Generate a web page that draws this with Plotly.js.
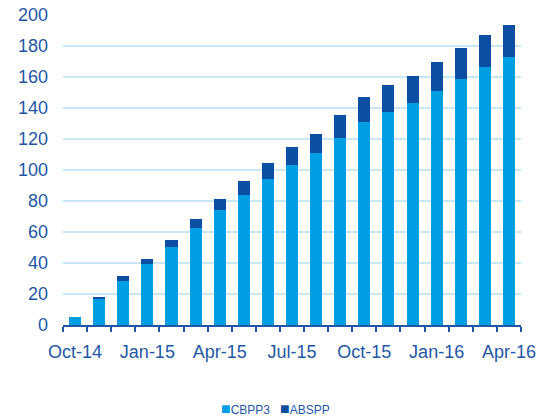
<!DOCTYPE html>
<html>
<head>
<meta charset="utf-8">
<script src="https://cdn.plot.ly/plotly-3.0.1.min.js"></script>
<style>html,body{margin:0;padding:0;background:#fff;}#chart{width:550px;height:419px;}</style>
</head>
<body>
<div id="chart"></div>
<script>
const months = ['Oct-14','Nov-14','Dec-14','Jan-15','Feb-15','Mar-15','Apr-15','May-15','Jun-15','Jul-15','Aug-15','Sep-15','Oct-15','Nov-15','Dec-15','Jan-16','Feb-16','Mar-16','Apr-16'];
const cbpp3 = [5.2, 16.6, 28.6, 39.1, 50.1, 62.6, 74.0, 84.1, 94.0, 103.0, 110.8, 120.8, 130.8, 137.4, 143.4, 151.0, 158.5, 166.5, 172.9];
const abspp = [0.0, 1.7, 2.8, 3.7, 4.7, 6.0, 7.1, 8.6, 10.3, 11.6, 12.2, 14.5, 16.1, 17.2, 17.0, 18.9, 20.0, 20.4, 20.8];
const tickLabels = ['Oct-14','','','Jan-15','','','Apr-15','','','Jul-15','','','Oct-15','','','Jan-16','','','Apr-16'];
const seriesNames = ['CBPP3','ABSPP'];
const seriesColors = ['#009FE3','#0B4EA2'];

const textColor = '#1F57A6';
const data = [
  {type:'bar', name:seriesNames[0], x:months, y:cbpp3, marker:{color:seriesColors[0]}, showlegend:false},
  {type:'bar', name:seriesNames[1], x:months, y:abspp, marker:{color:seriesColors[1]}, showlegend:false}
];
const legendText = seriesNames.map((n,i)=>'<span style="color:'+seriesColors[i]+';font-size:16px">■</span>'+n).join('&nbsp;&nbsp;&nbsp;');
const layout = {
  width:550, height:419,
  margin:{l:63, r:29, t:15, b:94, autoexpand:false},
  barmode:'stack',
  bargap:0.5,
  paper_bgcolor:'#fff', plot_bgcolor:'#fff',
  font:{family:'"Liberation Sans", Arial, sans-serif', color:textColor, size:18},
  xaxis:{
    type:'category', tickvals:months, ticktext:tickLabels,
    tickson:'boundaries', ticks:'outside', ticklen:5, tickwidth:2, tickcolor:'#1F57A6',
    showline:true, linecolor:'#1F57A6', linewidth:2, showgrid:false,
    tickfont:{size:18, color:textColor}, tickangle:0, ticklabelstandoff:9
  },
  yaxis:{
    range:[0,200], dtick:20, tick0:0, showline:false, zeroline:false,
    gridcolor:'#C8E8F7', gridwidth:1.5, ticks:'', ticklabelstandoff:14,
    tickfont:{size:18, color:textColor}
  },
  showlegend:false,
  annotations:[{
    xref:'paper', yref:'paper', x:0.464, y:-0.268, xanchor:'center', yanchor:'middle',
    showarrow:false, text:legendText, font:{size:12, color:textColor}
  }]
};
Plotly.newPlot('chart', data, layout, {displayModeBar:false, staticPlot:true});
</script>
</body>
</html>
